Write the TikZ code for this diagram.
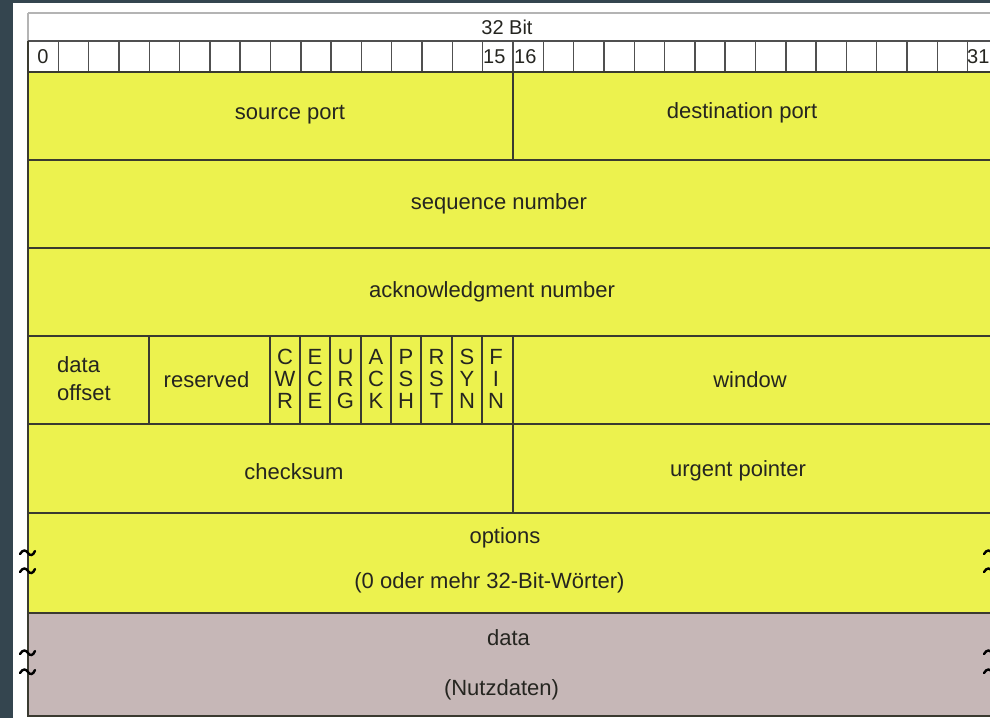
\documentclass[tikz,border=0pt]{standalone}
\usepackage{fontspec}
\setmainfont{Liberation Sans}
\definecolor{bgdark}{HTML}{34454F}
\definecolor{fieldyellow}{HTML}{ECF24E}
\definecolor{datagray}{HTML}{C6B7B7}
\definecolor{gridline}{HTML}{3A3A30}
\definecolor{bitline}{HTML}{505050}
\definecolor{headline}{HTML}{B4B4B4}
\definecolor{labeltext}{HTML}{252520}
\begin{document}
\begin{tikzpicture}[x=1pt,y=-1pt,
  lbl/.style={font=\fontsize{22}{24}\selectfont, text=labeltext, inner sep=0pt},
  bitlbl/.style={font=\fontsize{20}{22}\selectfont, text=labeltext, inner sep=0pt},
  flaglbl/.style={font=\fontsize{22}{22}\selectfont, text=labeltext, inner sep=0pt, align=center},
  grid/.style={draw=gridline, line width=1.8pt},
  bitgrid/.style={draw=bitline, line width=1.4pt},
  headgrid/.style={draw=headline, line width=1.8pt},
  tilde/.style={draw=black, line width=2.4pt, line cap=round}]
\useasboundingbox (0,0) rectangle (990,718);
\clip (0,0) rectangle (990,718);

% page background and white sheet
\fill[bgdark] (0,0) rectangle (990,718);
\fill[white] (13,3) rectangle (990,718);

% field areas
\fill[fieldyellow] (28,72) rectangle (998,613);
\fill[datagray] (27,613) rectangle (998,716);

% header with the bit ruler
\draw[headgrid] (28,13) -- (998,13);
\draw[headgrid] (28,13) -- (28,41);
\draw[bitgrid] (28,41) -- (998,41);
\foreach \k in {1,...,31} {
  \draw[bitgrid] ({28+\k*30.3125},41) -- ({28+\k*30.3125},72);
}

% row separators
\foreach \yy in {72,160,248,336,424,513,613,716} {
  \draw[grid] (27,\yy) -- (998,\yy);
}
\draw[grid] (28,41) -- (28,716);
\draw[grid] (513,72) -- (513,160);
\draw[grid] (513,336) -- (513,513);

% control row: data offset, reserved, eight flag bits
\foreach \xx in {149,270,300,330,361,391,421,452,482} {
  \draw[grid] (\xx,336) -- (\xx,424);
}

% break marks on options and data
\foreach \yy in {553,571,653,672} {
  \foreach \xs in {20,984} {
    \draw[tilde] (\xs,{\yy+1}) .. controls ({\xs+3},{\yy-4}) and ({\xs+6},{\yy-3}) .. ({\xs+8},{\yy})
                 .. controls ({\xs+10},{\yy+3}) and ({\xs+13},{\yy+3}) .. ({\xs+15},{\yy-2});
  }
}

% header labels
\node[bitlbl] (width) at (507,27) {32 Bit};
\node[bitlbl] (bit0) at (43,57) {0};
\node[bitlbl, anchor=west] (bit15) at (483,57) {15};
\node[bitlbl, anchor=west] (bit16) at (514,57) {16};
\node[bitlbl, anchor=west] (bit31) at (967,57) {31};

% field labels
\node[lbl] (srcport) at (290,115) {source port};
\node[lbl] (dstport) at (742,113) {destination port};
\node[lbl] (seqnum) at (499,204) {sequence number};
\node[lbl] (acknum) at (492,292) {acknowledgment number};
\node[lbl, anchor=west, align=left, font=\fontsize{22}{28}\selectfont] (offset) at (57,379) {data\\offset};
\node[lbl] (reserved) at (206.5,380) {reserved};
\node[flaglbl] (cwr) at (285,379) {C\\W\\R};
\node[flaglbl] (ece) at (315,379) {E\\C\\E};
\node[flaglbl] (urg) at (345.5,379) {U\\R\\G};
\node[flaglbl] (ack) at (376,379) {A\\C\\K};
\node[flaglbl] (psh) at (406,379) {P\\S\\H};
\node[flaglbl] (rst) at (436.5,379) {R\\S\\T};
\node[flaglbl] (syn) at (467,379) {S\\Y\\N};
\node[flaglbl] (fin) at (496,379) {F\\I\\N};
\node[lbl] (window) at (750,380) {window};
\node[lbl] (checksum) at (294,472) {checksum};
\node[lbl] (urgent) at (738,471) {urgent pointer};
\node[lbl] (options) at (505,538) {options};
\node[lbl] (optnote) at (489.5,583) {(0 oder mehr 32-Bit-Wörter)};
\node[lbl] (data) at (508.5,638) {data};
\node[lbl] (datanote) at (501.5,690) {(Nutzdaten)};
\end{tikzpicture}
\end{document}
